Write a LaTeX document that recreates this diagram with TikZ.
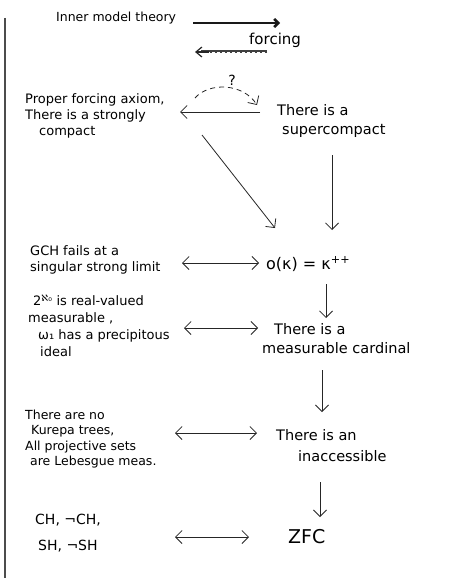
\documentclass[tikz,border=0pt]{standalone}
\usepackage{fontspec}
\setmainfont{DejaVu Sans}
\usetikzlibrary{arrows.meta,calc}
\begin{document}
\begin{tikzpicture}[x=1pt,y=-1pt,
  lt/.style={font=\fontsize{13}{16}\selectfont, align=left, inner sep=0pt, anchor=west},
  rt/.style={font=\fontsize{14.5}{19}\selectfont, align=left, inner sep=0pt, anchor=west},
  tip/.tip={Straight Barb[length=6.5pt,width=13pt]},
  arr/.style={-tip, line width=0.8pt, black!85},
  darr/.style={tip-tip, line width=0.8pt, black!85},
  legA/.style={-{Straight Barb[length=4pt,width=8pt]}, line width=2.6pt, black!90},
  legB/.style={line width=3pt, black!75},
  legBtip/.style={-{Straight Barb[length=6pt,width=10pt,line width=1.2pt]}, line width=1.2pt, black!85},
  hatch/.style={line width=0.8pt, white, dash pattern=on 3pt off 2pt},
]
\useasboundingbox (0,0) rectangle (449,578);
\fill[white] (0,0) rectangle (449,578);
\draw[line width=1.6pt, black!70] (5,18) -- (5,578);

% legend
\node[lt, font=\fontsize{12.5}{14}\selectfont] (imt) at (56,18) {Inner model theory};
\node[lt, font=\fontsize{15}{18}\selectfont] (forc) at (249,40) {forcing};
\draw[legB] ($(forc.west)+(18,12)$) -- ($(forc.west)+(-48,12)$);
\draw[hatch] ($(forc.west)+(16,12)$) -- ($(forc.west)+(-46,12)$);
\draw[legBtip] ($(forc.west)+(-40,12)$) -- ($(forc.west)+(-54,12)$);
\draw[legA] ($(imt.west)+(137,5)$) -- ($(imt.west)+(224,5)$);

% left column
\node[lt] (pfa) at (25,116) {Proper forcing axiom,\\There is a strongly\\\hspace*{14pt}compact};
\node[lt] (gch) at (30,260) {GCH fails at a\\singular strong limit};
\node[lt, font=\fontsize{13}{17}\selectfont] (rv) at (28,326) {\hspace*{5pt}2\textsuperscript{ℵ₀} is real-valued\\measurable ,\\\hspace*{10pt}ω₁ has a precipitous\\\hspace*{12pt}ideal};
\node[lt, font=\fontsize{12.5}{15.5}\selectfont] (kur) at (25,439) {There are no\\\hspace*{6pt}Kurepa trees,\\All projective sets\\\hspace*{5pt}are Lebesgue meas.};
\node[lt, font=\fontsize{14}{26}\selectfont] (ch) at (35,533) {CH, ¬CH,\\\hspace*{3pt}SH, ¬SH};

% right column
\node[rt] (sc) at (277,121) {There is a\\\hspace*{5pt}supercompact};
\node[rt, font=\fontsize{16}{20}\selectfont] (ok) at (266,264) {o(κ) = κ\textsuperscript{++}};
\node[rt] (meas) at (262,339) {\hspace*{12pt}There is a\\measurable cardinal};
\node[rt, font=\fontsize{14.5}{21}\selectfont] (inacc) at (276,446) {There is an\\\hspace*{22pt}inaccessible};
\node[rt, font=\fontsize{19}{20}\selectfont] (zfc) at (288,537) {ZFC};

% top connectors
\draw[arr] ($(sc.west)+(-17,-9)$) -- ($(pfa.west)+(155,-4)$);
\draw[arr, dash pattern=on 5pt off 4pt] ($(pfa.west)+(170,-18)$) .. controls +(14,-16) and +(-14,-22) .. ($(sc.west)+(-20,-16)$);
\node[font=\fontsize{14}{16}\selectfont, inner sep=0pt] (q) at (232,80) {?};
\draw[arr] ($(pfa.west)+(177,19)$) -- ($(ok.west)+(9,-36)$);
\draw[arr] ($(sc.west)+(55,34)$) -- ($(ok.west)+(66,-34)$);

% rows
\draw[darr] ($(gch.west)+(152,3)$) -- ($(ok.west)+(-7,-1)$);
\draw[arr] ($(ok.west)+(60,20)$) -- ($(meas.west)+(64,-21)$);
\draw[darr] ($(rv.west)+(156,2)$) -- ($(meas.west)+(-4,-11)$);
\draw[arr] ($(meas.west)+(60,31)$) -- ($(inacc.west)+(46,-34)$);
\draw[darr] ($(kur.west)+(150,-6)$) -- ($(inacc.west)+(-19,-13)$);
\draw[arr] ($(inacc.west)+(44,36)$) -- ($(zfc.west)+(32,-20)$);
\draw[darr] ($(ch.west)+(140,4)$) -- ($(zfc.west)+(-39,0)$);
\end{tikzpicture}
\end{document}
